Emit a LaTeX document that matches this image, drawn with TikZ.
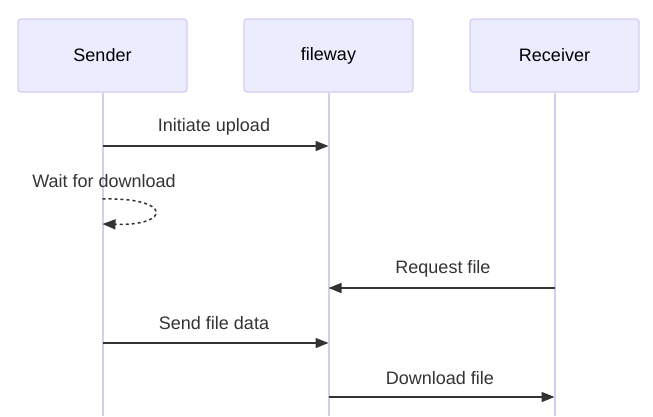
\documentclass[tikz,border=0pt]{standalone}
\usepackage{fontspec}
\setmainfont{Liberation Sans}
\usetikzlibrary{arrows.meta}
\definecolor{actorfill}{HTML}{ECECFF}
\definecolor{actorline}{HTML}{D5CCF2}
\definecolor{msgcol}{HTML}{333333}

\begin{document}
\begin{tikzpicture}[x=1pt,y=-1pt,
    actor/.style={draw=actorline,fill=actorfill,line width=1.3pt,rounded corners=3pt,
      minimum width=169pt,minimum height=73pt,inner sep=0pt,font=\fontsize{18}{21}\selectfont},
    lifeline/.style={draw=actorline,line width=2pt},
    msg/.style={draw=msgcol,line width=1.5pt,-{Triangle[length=13pt,width=10pt]}},
    msglabel/.style={text=msgcol,inner sep=0pt,font=\fontsize{18}{21}\selectfont}]
  \useasboundingbox (0,0) rectangle (653,416);
  % actors
  \node[actor] (sender)   at (102.5,55.5) {Sender};
  \node[actor] (fileway)  at (328.5,55.5) {fileway};
  \node[actor] (receiver) at (554.5,55.5) {Receiver};
  \foreach \a in {sender,fileway,receiver}
    \draw[lifeline] (\a.south) -- (\a.south |- 0,416);
  % messages
  \node[msglabel] (l1) at (214,127) {Initiate upload};
  \draw[msg] (sender.south |- 0,146) -- (fileway.south |- 0,146);
  \node[msglabel] (l2) at (104,181) {Wait for download};
  \coordinate (w1) at (sender.south |- 0,199);
  \coordinate (w2) at (sender.south |- 0,224);
  \draw[msg,dash pattern=on 3pt off 3pt] (w1) .. controls (172,197) and (172,226) .. (w2);
  \node[msglabel] (l3) at (443,269) {Request file};
  \draw[msg] (receiver.south |- 0,288) -- (fileway.south |- 0,288);
  \node[msglabel] (l4) at (214,323) {Send file data};
  \draw[msg] (sender.south |- 0,343) -- (fileway.south |- 0,343);
  \node[msglabel] (l5) at (440,378) {Download file};
  \draw[msg] (fileway.south |- 0,397) -- (receiver.south |- 0,397);
\end{tikzpicture}
\end{document}
